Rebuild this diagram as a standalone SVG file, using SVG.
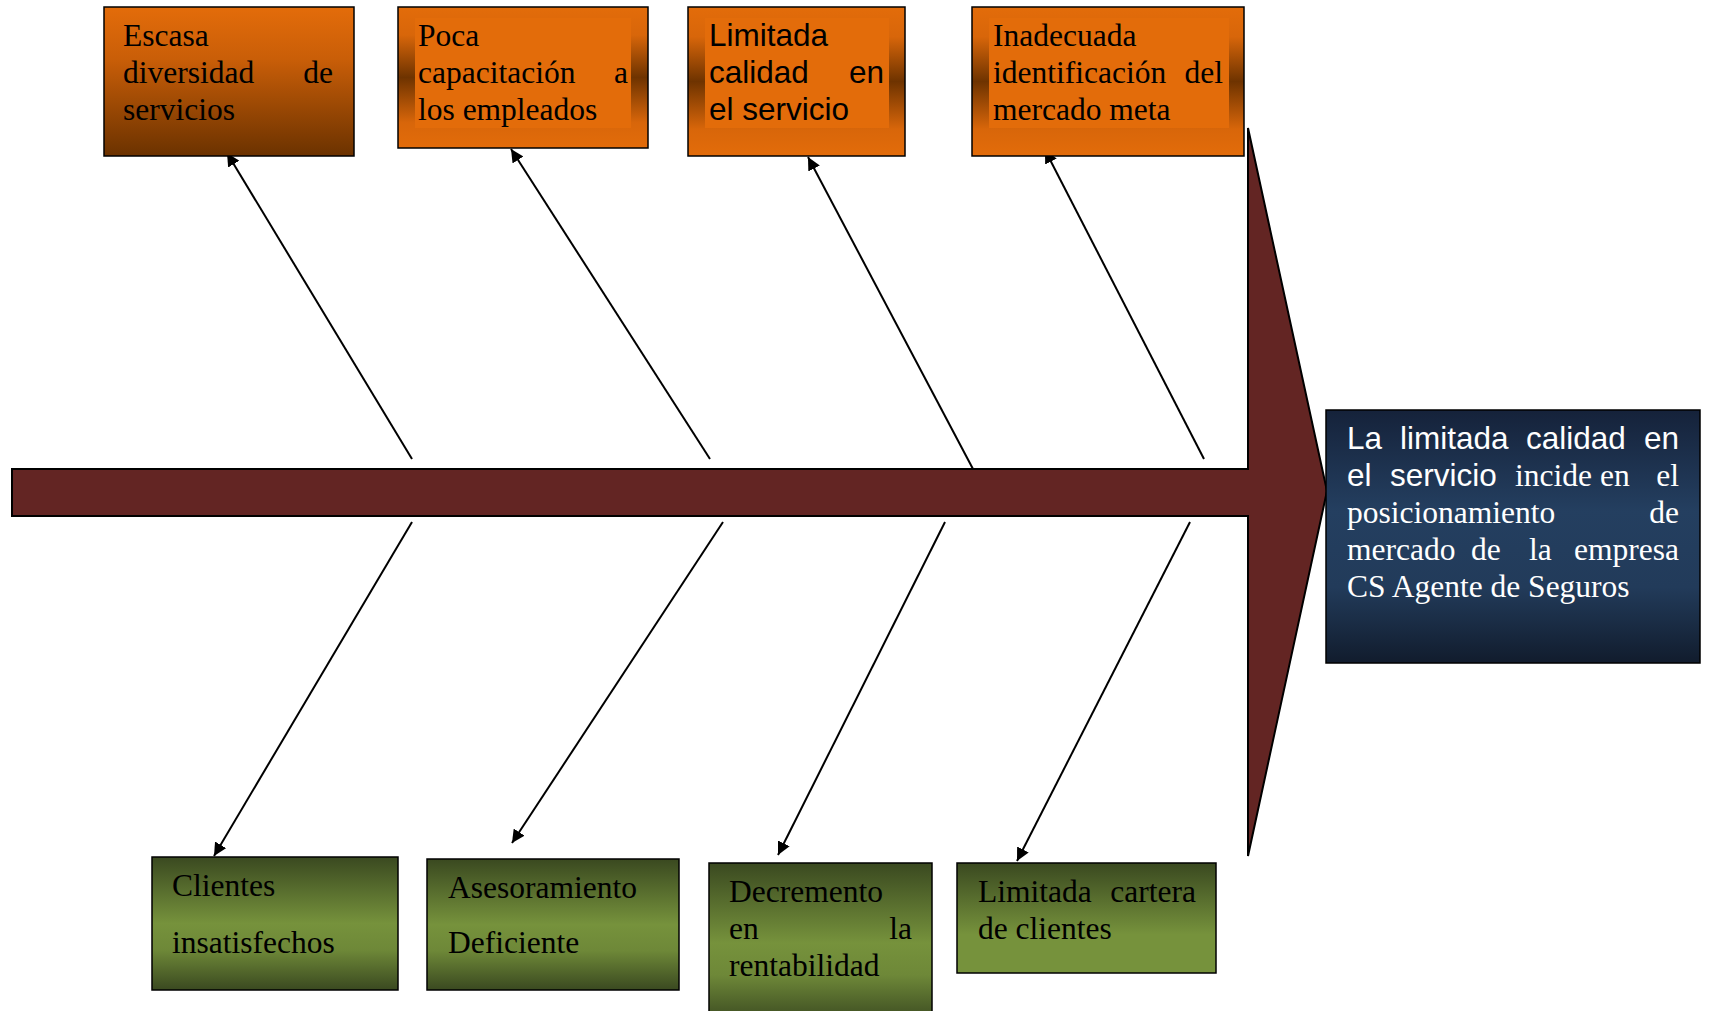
<svg xmlns="http://www.w3.org/2000/svg" width="1709" height="1011" viewBox="0 0 1709 1011">
<defs>
<linearGradient id="gBrown" x1="0" y1="0" x2="0" y2="1">
<stop offset="0" stop-color="#e36c0a"/><stop offset="0.35" stop-color="#c95e08"/><stop offset="1" stop-color="#6b3200"/>
</linearGradient>
<linearGradient id="gFrame" x1="0" y1="0" x2="0" y2="1">
<stop offset="0" stop-color="#e36c0a"/><stop offset="0.2" stop-color="#d8660a"/><stop offset="0.5" stop-color="#6e3300"/><stop offset="0.82" stop-color="#d8660a"/><stop offset="1" stop-color="#e36c0a"/>
</linearGradient>
<linearGradient id="gGreen" x1="0" y1="0" x2="0" y2="1">
<stop offset="0" stop-color="#3a4920"/><stop offset="0.5" stop-color="#76923c"/><stop offset="0.7" stop-color="#6e8838"/><stop offset="1" stop-color="#3a4920"/>
</linearGradient>
<linearGradient id="gGreen2" x1="0" y1="0" x2="0" y2="1">
<stop offset="0" stop-color="#3a4920"/><stop offset="0.65" stop-color="#76923c"/><stop offset="1" stop-color="#76923c"/>
</linearGradient>
<linearGradient id="gNavy" x1="0" y1="0" x2="0" y2="1">
<stop offset="0" stop-color="#15223a"/><stop offset="0.4" stop-color="#243f60"/><stop offset="0.7" stop-color="#223b5a"/><stop offset="1" stop-color="#111c2d"/>
</linearGradient>
<marker id="ah" viewBox="0 0 10 10" refX="10" refY="5" markerWidth="13" markerHeight="13" markerUnits="userSpaceOnUse" orient="auto">
<path d="M0,0 L10,5 L0,10 z" fill="#000"/>
</marker>
</defs>
<style>
.box{stroke:#000;stroke-width:1.5}
.inner{fill:#e36c0a}
.t{font-family:"Liberation Serif","Times New Roman",serif;font-size:31.5px;fill:#000}
.a{font-family:"Liberation Sans",Arial,sans-serif;font-size:31.5px;fill:#000}
.w{fill:#fff}
.end{text-anchor:end}
.c{stroke:#000;stroke-width:2;fill:none;marker-end:url(#ah)}
</style>
<rect width="1709" height="1011" fill="#fff"/>

<g id="spine">
<path d="M12,469 L1248,469 L1248,128 L1327,491 L1248,856 L1248,516 L12,516 Z" fill="#632523" stroke="#000" stroke-width="2"/>
</g>

<g id="connectors">
<line class="c" x1="412" y1="459" x2="227" y2="153"/>
<line class="c" x1="710" y1="459" x2="511" y2="149"/>
<line class="c" x1="973" y1="469" x2="808" y2="157"/>
<line class="c" x1="1204" y1="459" x2="1045" y2="150"/>
<line class="c" x1="412" y1="522" x2="214" y2="856"/>
<line class="c" x1="723" y1="522" x2="512" y2="843"/>
<line class="c" x1="945" y1="522" x2="778" y2="855"/>
<line class="c" x1="1190" y1="522" x2="1017" y2="861"/>
</g>

<g id="cause1">
<rect class="box" x="104" y="7" width="250" height="149" fill="url(#gBrown)"/>
<text class="t" x="123" y="46">Escasa</text>
<text class="t" x="123" y="83">diversidad</text><text class="t end" x="333" y="83">de</text>
<text class="t" x="123" y="120">servicios</text>
</g>

<g id="cause2">
<rect class="box" x="398" y="7" width="250" height="141" fill="url(#gFrame)"/>
<rect class="inner" x="415" y="18" width="216" height="110"/>
<text class="t" x="418" y="46">Poca</text>
<text class="t" x="418" y="83">capacitación</text><text class="t end" x="628" y="83">a</text>
<text class="t" x="418" y="120">los empleados</text>
</g>

<g id="cause3">
<rect class="box" x="688" y="7" width="217" height="149" fill="url(#gFrame)"/>
<rect class="inner" x="705" y="18" width="184" height="110"/>
<text class="a" x="709" y="46">Limitada</text>
<text class="a" x="709" y="83">calidad</text><text class="a end" x="884" y="83">en</text>
<text class="a" x="709" y="120">el servicio</text>
</g>

<g id="cause4">
<rect class="box" x="972" y="7" width="272" height="149" fill="url(#gFrame)"/>
<rect class="inner" x="989" y="18" width="240" height="110"/>
<text class="t" x="993" y="46">Inadecuada</text>
<text class="t" x="993" y="83">identificación</text><text class="t end" x="1223" y="83">del</text>
<text class="t" x="993" y="120">mercado meta</text>
</g>

<g id="effect">
<rect x="1326" y="410" width="374" height="253" fill="url(#gNavy)" stroke="#000" stroke-width="1.5"/>
<text class="a w" x="1347" y="449">La</text>
<text class="a w" x="1400" y="449">limitada</text>
<text class="a w" x="1526" y="449">calidad</text>
<text class="a w end" x="1679" y="449">en</text>
<text class="a w" x="1347" y="486">el</text>
<text class="a w" x="1390" y="486">servicio</text>
<text class="t w" x="1515" y="486">incide</text>
<text class="t w" x="1600" y="486">en</text>
<text class="t w end" x="1679" y="486">el</text>
<text class="t w" x="1347" y="523">posicionamiento</text>
<text class="t w end" x="1679" y="523">de</text>
<text class="t w" x="1347" y="560">mercado</text>
<text class="t w" x="1471" y="560">de</text>
<text class="t w" x="1529" y="560">la</text>
<text class="t w end" x="1679" y="560">empresa</text>
<text class="t w" x="1347" y="597">CS Agente de Seguros</text>
</g>

<g id="effect1">
<rect class="box" x="152" y="857" width="246" height="133" fill="url(#gGreen)"/>
<text class="t" x="172" y="896">Clientes</text>
<text class="t" x="172" y="953">insatisfechos</text>
</g>

<g id="effect2">
<rect class="box" x="427" y="859" width="252" height="131" fill="url(#gGreen)"/>
<text class="t" x="448" y="898">Asesoramiento</text>
<text class="t" x="448" y="953">Deficiente</text>
</g>

<g id="effect3">
<rect class="box" x="709" y="863" width="223" height="160" fill="url(#gGreen)"/>
<text class="t" x="729" y="902">Decremento</text>
<text class="t" x="729" y="939">en</text><text class="t end" x="912" y="939">la</text>
<text class="t" x="729" y="976">rentabilidad</text>
</g>

<g id="effect4">
<rect class="box" x="957" y="863" width="259" height="110" fill="url(#gGreen2)"/>
<text class="t" x="978" y="902">Limitada</text><text class="t end" x="1196" y="902">cartera</text>
<text class="t" x="978" y="939">de clientes</text>
</g>
</svg>
